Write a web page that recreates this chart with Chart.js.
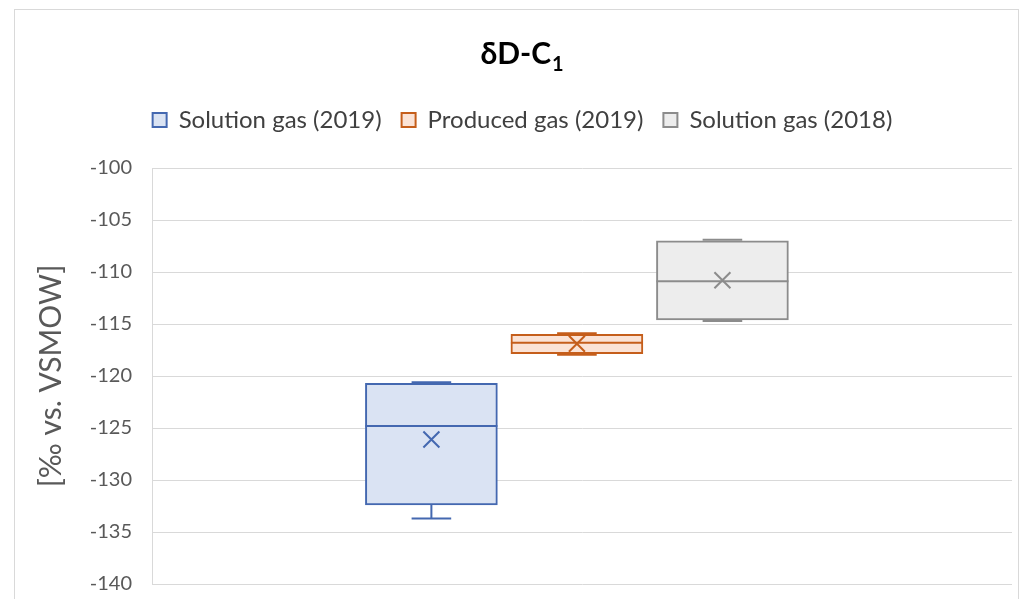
<!DOCTYPE html>
<html><head><meta charset="utf-8">
<script src="https://cdn.jsdelivr.net/npm/chart.js@4"></script>
<style>html,body{margin:0;padding:0;background:#fff;}#wrap{width:1031px;height:599px;position:relative}</style>
</head><body><div id="wrap"><canvas id="c" width="1031" height="599"></canvas></div>
<script>
// ---- data ----
const chartTitle = 'δD-C';
const chartTitleSub = '1';
const seriesNames = ['Solution gas (2019)', 'Produced gas (2019)', 'Solution gas (2018)'];
const positions = [1, 2, 3];
const mins    = [-133.7, -117.95, -114.7];
const q1s     = [-132.4, -117.85, -114.6];
const medians = [-124.8, -116.8, -110.9];
const q3s     = [-120.7, -116.0, -107.0];
const maxs    = [-120.6, -115.9, -106.9];
const means   = [-126.1, -116.9, -110.8];
const yMin = -140, yMax = -100, yStep = 5;
const yAxisTitle = '[‰ vs. VSMOW]';

const strokeColors = ['#4468B0', '#C55E1B', '#8C8C8C'];
const fillColors = ['#DAE3F3', '#FBE3D6', '#EDEDED'];

const FONT = 'Lato, Carlito, Calibri, sans-serif';

const datasets = seriesNames.map((name, i) => ({
  label: name,
  data: [{x: positions[i], y: [q1s[i], q3s[i]]}],
  backgroundColor: fillColors[i],
  borderColor: strokeColors[i],
  borderWidth: 2,
  borderSkipped: false,
  grouped: false,
  barThickness: 132
}));

const framePlugin = {
  id: 'frame',
  beforeLayout(chart) {
    const lg = chart.legend;
    if (lg && !lg._fitWrapped) {
      const orig = lg.fit;
      lg.fit = function () { orig.call(this); this.height += 26; };
      lg._fitWrapped = true;
    }
  },
  beforeDraw(chart) {
    const ctx = chart.ctx;
    ctx.save();
    ctx.fillStyle = '#fff';
    ctx.fillRect(0, 0, chart.width, chart.height);
    ctx.strokeStyle = '#D9D9D9';
    ctx.lineWidth = 1;
    ctx.strokeRect(14.5, 9.5, 1004, 700);
    // title with subscript
    const mainFont = 'bold 30px ' + FONT;
    const subFont = 'bold 20px ' + FONT;
    ctx.font = mainFont;
    const w1 = ctx.measureText(chartTitle).width;
    ctx.font = subFont;
    const w2 = ctx.measureText(chartTitleSub).width;
    const x0 = 522 - (w1 + w2 + 1) / 2;
    ctx.fillStyle = '#000';
    ctx.textBaseline = 'alphabetic';
    ctx.textAlign = 'left';
    ctx.font = mainFont;
    ctx.fillText(chartTitle, x0, 64);
    ctx.font = subFont;
    ctx.fillText(chartTitleSub, x0 + w1 + 1, 71);
    ctx.restore();
  }
};

const boxPlugin = {
  id: 'boxwhisker',
  afterDatasetsDraw(chart) {
    const ctx = chart.ctx;
    const y = chart.scales.y;
    chart.data.datasets.forEach((ds, i) => {
      const meta = chart.getDatasetMeta(i);
      const bar = meta.data[0];
      if (!bar) return;
      const cx = bar.x, w = bar.width;
      const half = w / 2, cap = w * 0.15;
      ctx.save();
      ctx.strokeStyle = strokeColors[i];
      ctx.lineWidth = 2;
      const ym = y.getPixelForValue(medians[i]);
      ctx.beginPath(); ctx.moveTo(cx - half, ym); ctx.lineTo(cx + half, ym); ctx.stroke();
      const yq1 = y.getPixelForValue(q1s[i]), yq3 = y.getPixelForValue(q3s[i]);
      const ymin = y.getPixelForValue(mins[i]), ymax = y.getPixelForValue(maxs[i]);
      ctx.beginPath();
      ctx.moveTo(cx, yq1); ctx.lineTo(cx, ymin);
      ctx.moveTo(cx - cap, ymin); ctx.lineTo(cx + cap, ymin);
      ctx.moveTo(cx, yq3); ctx.lineTo(cx, ymax);
      ctx.moveTo(cx - cap, ymax); ctx.lineTo(cx + cap, ymax);
      ctx.stroke();
      const yme = y.getPixelForValue(means[i]);
      const s = 8;
      ctx.beginPath();
      ctx.moveTo(cx - s, yme - s); ctx.lineTo(cx + s, yme + s);
      ctx.moveTo(cx + s, yme - s); ctx.lineTo(cx - s, yme + s);
      ctx.stroke();
      ctx.restore();
    });
  }
};

new Chart(document.getElementById('c'), {
  type: 'bar',
  data: { datasets },
  options: {
    responsive: false,
    animation: false,
    devicePixelRatio: 1,
    layout: { padding: { top: 88, left: 33, right: 19, bottom: 2 } },
    plugins: {
      tooltip: { enabled: false },
      title: { display: false },
      legend: {
        display: true,
        position: 'top',
        labels: {
          color: '#404040',
          font: { family: FONT, size: 24 },
          boxWidth: 14,
          boxHeight: 14,
          padding: 20
        }
      }
    },
    scales: {
      x: {
        type: 'linear',
        min: -0.92,
        max: 4.99,
        offset: false,
        display: false
      },
      y: {
        min: yMin,
        max: yMax,
        ticks: { stepSize: yStep, color: '#595959', font: { family: FONT, size: 20 }, padding: 3 },
        grid: { color: '#D9D9D9', drawTicks: true, tickLength: 17, tickColor: 'rgba(0,0,0,0)' },
        border: { display: true, color: '#D9D9D9' },
        title: {
          display: true,
          text: yAxisTitle,
          color: '#595959',
          font: { family: FONT, size: 30 },
          padding: { top: 0, bottom: 0 }
        },
        afterFit(scale) { scale.width = 119; }
      }
    }
  },
  plugins: [framePlugin, boxPlugin]
});
</script></body></html>
